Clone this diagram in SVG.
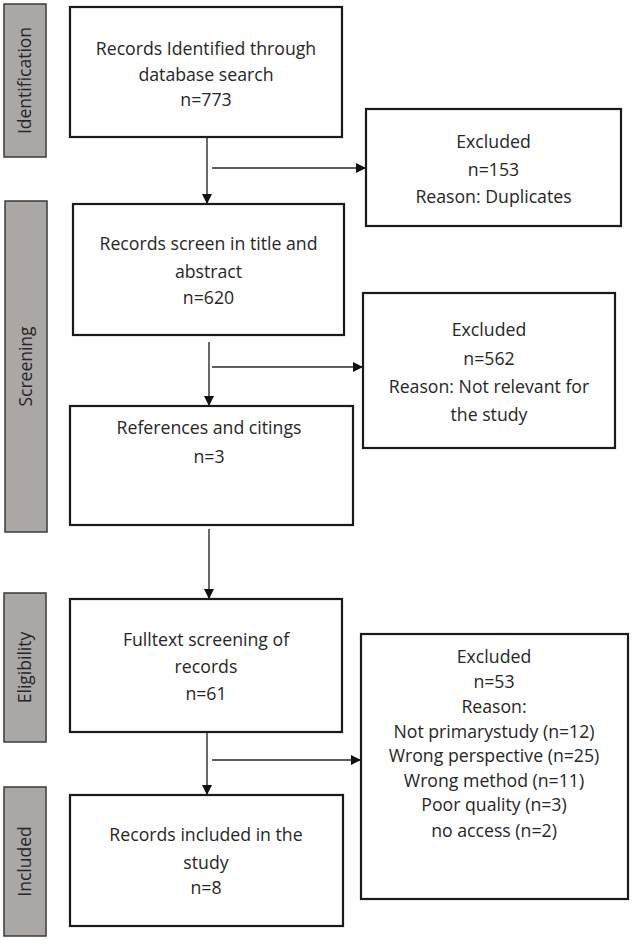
<svg xmlns="http://www.w3.org/2000/svg" width="633" height="940" viewBox="0 0 633 940">
<defs>
<style>
.box{fill:#fff;stroke:#1a1a1a;stroke-width:2.2}
.lab{fill:#aba7a5;stroke:#3a3a3a;stroke-width:1.5}
.t{font-family:"Open Sans","Liberation Sans",sans-serif;font-size:17.7px;fill:#262626;text-anchor:middle}
.lt{font-family:"Open Sans","Liberation Sans",sans-serif;font-size:17.5px;fill:#262626;text-anchor:middle}
.c{stroke:#2a2a2a;stroke-width:1.4;fill:none}
</style>
<marker id="ah" markerWidth="10" markerHeight="10" refX="9" refY="5" orient="auto" markerUnits="userSpaceOnUse">
<path d="M0,0 L10,5 L0,10 Z" fill="#111"/>
</marker>
</defs>
<rect width="633" height="940" fill="#fff"/>

<g id="label-identification"><rect class="lab" x="4" y="4" width="42" height="153"/><text class="lt" transform="translate(31,80.5) rotate(-90)">Identification</text></g>
<g id="label-screening"><rect class="lab" x="5" y="201" width="42" height="331"/><text class="lt" transform="translate(32,366.5) rotate(-90)">Screening</text></g>
<g id="label-eligibility"><rect class="lab" x="4" y="593" width="42" height="149"/><text class="lt" transform="translate(31,667.5) rotate(-90)">Eligibility</text></g>
<g id="label-included"><rect class="lab" x="4" y="787" width="42" height="149"/><text class="lt" transform="translate(31,861.5) rotate(-90)">Included</text></g>

<g id="connectors">
<line class="c" x1="207" y1="137" x2="207" y2="203" marker-end="url(#ah)"/>
<line class="c" x1="212" y1="168" x2="365" y2="168" marker-end="url(#ah)"/>
<line class="c" x1="209" y1="342" x2="209" y2="405" marker-end="url(#ah)"/>
<line class="c" x1="212" y1="367" x2="362" y2="367" marker-end="url(#ah)"/>
<line class="c" x1="209" y1="529" x2="209" y2="598" marker-end="url(#ah)"/>
<line class="c" x1="207" y1="732" x2="207" y2="794" marker-end="url(#ah)"/>
<line class="c" x1="212" y1="760" x2="360" y2="760" marker-end="url(#ah)"/>
</g>

<g id="n1"><rect class="box" x="70" y="7" width="272" height="130"/>
<text class="t" x="206" y="55">Records Identified through</text>
<text class="t" x="206" y="81">database search</text>
<text class="t" x="206" y="106">n=773</text></g>

<g id="n2"><rect class="box" x="366" y="109" width="255" height="117"/>
<text class="t" x="493.5" y="148">Excluded</text>
<text class="t" x="493.5" y="176">n=153</text>
<text class="t" x="493.5" y="203">Reason: Duplicates</text></g>

<g id="n3"><rect class="box" x="73" y="204" width="271" height="131"/>
<text class="t" x="208.5" y="250">Records screen in title and</text>
<text class="t" x="208.5" y="278">abstract</text>
<text class="t" x="208.5" y="304">n=620</text></g>

<g id="n4"><rect class="box" x="363" y="293" width="252" height="155"/>
<text class="t" x="489" y="336">Excluded</text>
<text class="t" x="489" y="365">n=562</text>
<text class="t" x="489" y="393">Reason: Not relevant for</text>
<text class="t" x="489" y="421">the study</text></g>

<g id="n5"><rect class="box" x="70" y="406" width="283" height="119"/>
<text class="t" x="209" y="434">References and citings</text>
<text class="t" x="209" y="463">n=3</text></g>

<g id="n6"><rect class="box" x="70" y="599" width="272" height="133"/>
<text class="t" x="206" y="646">Fulltext screening of</text>
<text class="t" x="206" y="673">records</text>
<text class="t" x="206" y="700">n=61</text></g>

<g id="n7"><rect class="box" x="361" y="634" width="267" height="265"/>
<text class="t" x="494" y="663">Excluded</text>
<text class="t" x="494" y="688">n=53</text>
<text class="t" x="494" y="713">Reason:</text>
<text class="t" x="494" y="738">Not primarystudy (n=12)</text>
<text class="t" x="494" y="762">Wrong perspective (n=25)</text>
<text class="t" x="494" y="787">Wrong method (n=11)</text>
<text class="t" x="494" y="811">Poor quality (n=3)</text>
<text class="t" x="494" y="837">no access (n=2)</text></g>

<g id="n8"><rect class="box" x="70" y="795" width="273" height="131"/>
<text class="t" x="206" y="841">Records included in the</text>
<text class="t" x="206" y="869">study</text>
<text class="t" x="206" y="894">n=8</text></g>
</svg>
